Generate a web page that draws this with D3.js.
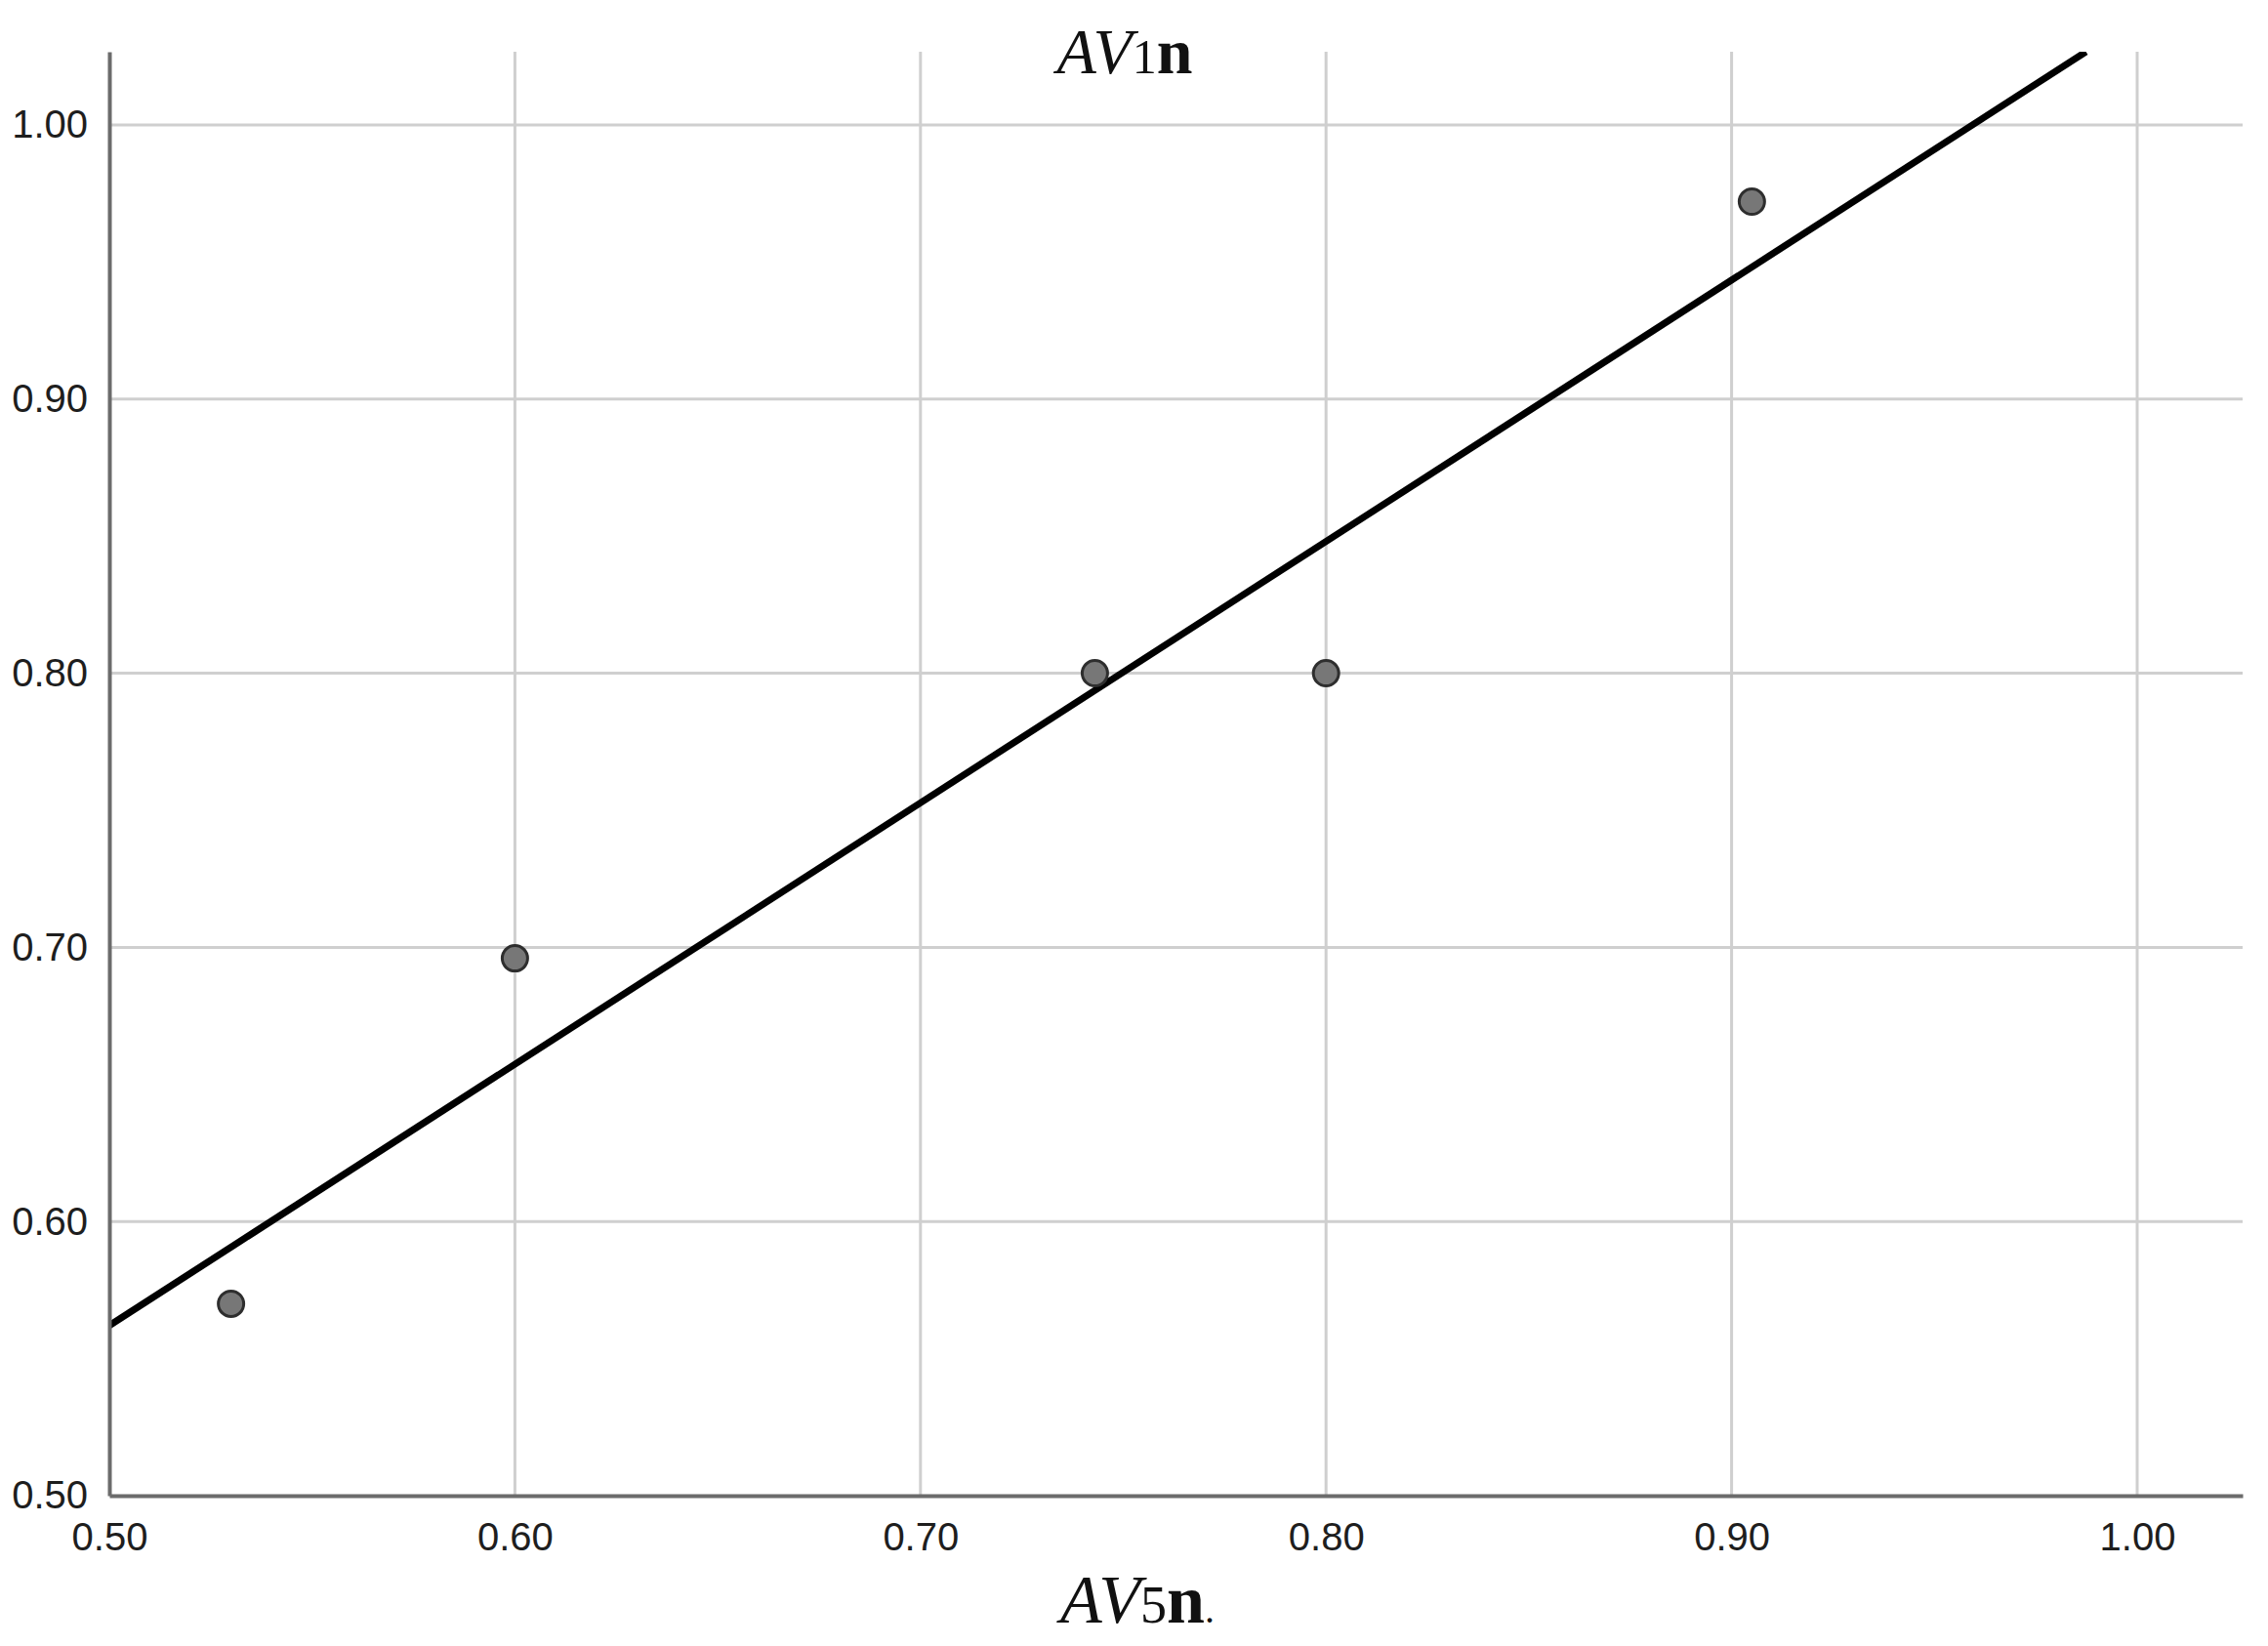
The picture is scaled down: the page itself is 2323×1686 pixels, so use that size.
<!DOCTYPE html>
<meta charset="utf-8">
<style>
body { margin: 0; background: #fff; }
.grid line { stroke: #cfcfcf; stroke-width: 3; }
.axis path, .axis line { stroke: #6b6b6b; stroke-width: 4; }
.axis text { font-family: "Liberation Sans", Arial, sans-serif; font-size: 40px; fill: #1e1e1e; }
.dot { fill: #777; stroke: #2e2e2e; stroke-width: 3; }
.fit { stroke: #000; stroke-width: 7; fill: none; }
.label { font-family: "Liberation Serif", "DejaVu Serif", serif; fill: #111; }
</style>
<body>
<script src="https://cdnjs.cloudflare.com/ajax/libs/d3/7.8.5/d3.min.js"></script>
<script>

// data
var av5 = [0.530, 0.600, 0.743, 0.800, 0.905];
var av1 = [0.570, 0.696, 0.800, 0.800, 0.972];
var xTicks = [0.50, 0.60, 0.70, 0.80, 0.90, 1.00];
var yTicks = [0.50, 0.60, 0.70, 0.80, 0.90, 1.00];

var margin = {top: 53, right: 26, bottom: 154, left: 112},
    width = 2323 - margin.left - margin.right,
    height = 1686 - margin.top - margin.bottom;

var x = d3.scaleLinear().domain([0.5, 1.026]).range([0, width]);
var y = d3.scaleLinear().domain([0.5, 1.0267]).range([height, 0]);

var svg = d3.select("body").append("svg")
    .attr("width", 2323)
    .attr("height", 1686);

var g = svg.append("g")
    .attr("transform", "translate(" + margin.left + "," + margin.top + ")");

// gridlines
var grid = g.append("g").attr("class", "grid");
grid.selectAll(".gx").data(xTicks.slice(1)).enter().append("line")
    .attr("x1", function(d) { return x(d); })
    .attr("x2", function(d) { return x(d); })
    .attr("y1", 0).attr("y2", height);
grid.selectAll(".gy").data(yTicks.slice(1)).enter().append("line")
    .attr("x1", 0).attr("x2", width)
    .attr("y1", function(d) { return y(d); })
    .attr("y2", function(d) { return y(d); });

// least squares fit line, clipped to plot
var mx = d3.mean(av5), my = d3.mean(av1);
var sxy = d3.sum(av5, function(v, i) { return (v - mx) * (av1[i] - my); });
var sxx = d3.sum(av5, function(v) { return (v - mx) * (v - mx); });
var slope = sxy / sxx, icpt = my - slope * mx;
var xEnd = Math.min(x.domain()[1], (y.domain()[1] - icpt) / slope);

svg.append("clipPath").attr("id", "clip")
  .append("rect").attr("width", width).attr("height", height);

g.append("line")
    .attr("class", "fit")
    .attr("clip-path", "url(#clip)")
    .attr("x1", x(0.5)).attr("y1", y(icpt + slope * 0.5))
    .attr("x2", x(xEnd)).attr("y2", y(icpt + slope * xEnd));

// axes
g.append("g")
    .attr("class", "axis")
    .attr("transform", "translate(0," + height + ")")
    .call(d3.axisBottom(x).tickValues(xTicks).tickFormat(d3.format(".2f")).tickSize(0).tickPadding(28).tickSizeOuter(0));

g.append("g")
    .attr("class", "axis")
    .call(d3.axisLeft(y).tickValues(yTicks).tickFormat(d3.format(".2f")).tickSize(0).tickPadding(22).tickSizeOuter(0));

// points
g.selectAll(".dot")
    .data(av5)
  .enter().append("circle")
    .attr("class", "dot")
    .attr("r", 13)
    .attr("cx", function(d) { return x(d); })
    .attr("cy", function(d, i) { return y(av1[i]); });

// titles
var t = svg.append("text").attr("class", "label")
    .attr("x", 1152).attr("y", 75)
    .attr("text-anchor", "middle")
    .style("font-size", "66px");
t.append("tspan").style("font-style", "italic").text("AV");
t.append("tspan").style("font-size", "50px").text("1");
t.append("tspan").style("font-weight", "bold").text("n");

var b = svg.append("text").attr("class", "label")
    .attr("x", 1165).attr("y", 1662)
    .attr("text-anchor", "middle")
    .style("font-size", "70px");
b.append("tspan").style("font-style", "italic").text("AV");
b.append("tspan").style("font-size", "54px").text("5");
b.append("tspan").style("font-weight", "bold").text("n");
b.append("tspan").style("font-size", "40px").text(".");

</script>
</body>
